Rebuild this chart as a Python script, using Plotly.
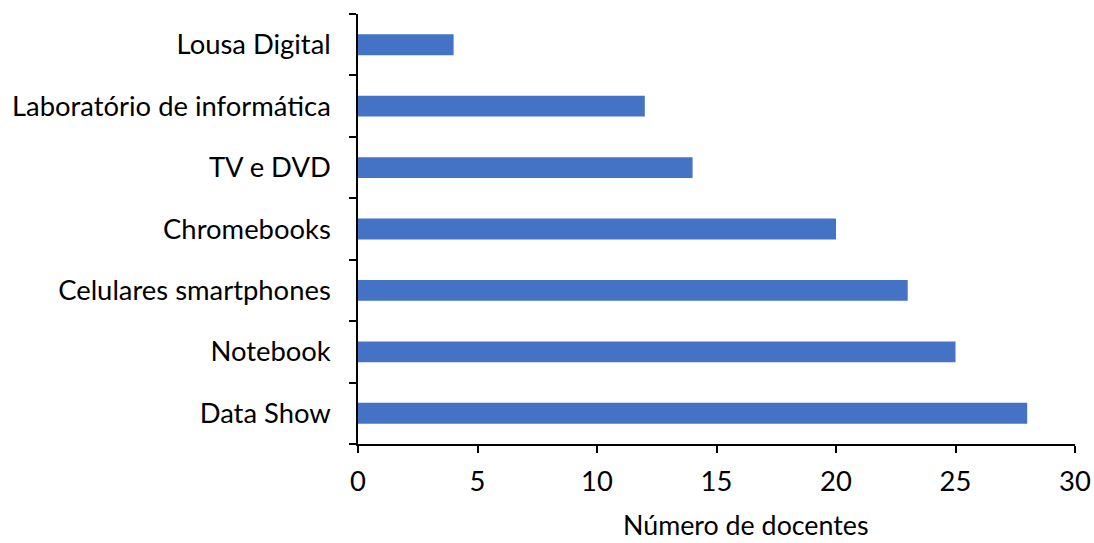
import plotly.graph_objects as go

# Recursos tecnológicos utilizados pelos docentes
recursos = [
    "Data Show",
    "Notebook",
    "Celulares smartphones",
    "Chromebooks",
    "TV e DVD",
    "Laboratório de informática",
    "Lousa Digital",
]
docentes = [28, 25, 23, 20, 14, 12, 4]

x_ticks = [0, 5, 10, 15, 20, 25, 30]
x_title = "Número de docentes"

FONT = "Lato, Carlito, Calibri, sans-serif"
SIZE = 27.4

fig = go.Figure(
    go.Bar(
        x=docentes,
        y=recursos,
        orientation="h",
        width=0.34,
        marker=dict(color="#4472C4", line=dict(width=0)),
        hoverinfo="x+y",
    )
)

fig.update_layout(
    width=1094,
    height=543,
    margin=dict(l=358, r=19, t=14, b=99, autoexpand=False),
    plot_bgcolor="white",
    paper_bgcolor="white",
    showlegend=False,
    font=dict(family=FONT, size=SIZE, color="#000000"),
    annotations=[
        dict(
            text=x_title,
            xref="paper",
            yref="paper",
            x=0.541,
            y=0,
            yshift=-81,
            xanchor="center",
            yanchor="middle",
            showarrow=False,
            font=dict(family=FONT, size=26.8, color="#000000"),
        )
    ],
)

fig.update_xaxes(
    range=[0, 30],
    tickvals=x_ticks,
    ticktext=[str(v) for v in x_ticks],
    automargin=False,
    showgrid=False,
    zeroline=False,
    showline=True,
    linecolor="black",
    linewidth=1.5,
    ticks="outside",
    ticklen=7,
    tickwidth=1.5,
    tickcolor="black",
    ticklabelstandoff=5,
)

fig.update_yaxes(
    type="category",
    categoryorder="array",
    categoryarray=recursos,
    tickson="boundaries",
    automargin=False,
    showgrid=False,
    zeroline=False,
    showline=True,
    linecolor="black",
    linewidth=1.5,
    ticks="outside",
    ticklen=7,
    tickwidth=1.5,
    tickcolor="black",
    ticklabelstandoff=20,
)

fig.write_html("out.html")
